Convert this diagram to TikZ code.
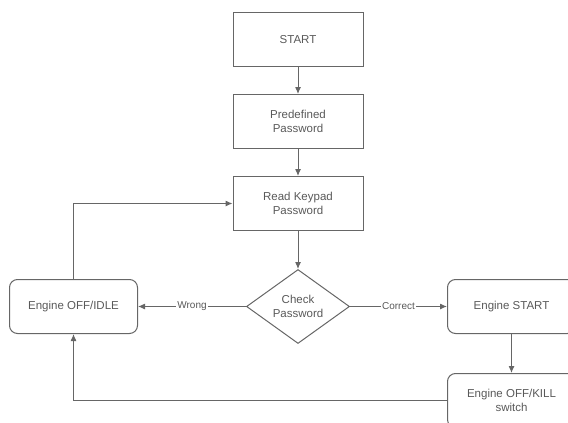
\documentclass[tikz,border=0pt]{standalone}
\usepackage{fontspec}
\setmainfont{Liberation Sans}
\usetikzlibrary{positioning,shapes.geometric,arrows.meta}

\begin{document}
\begin{tikzpicture}[x=1pt, y=1pt, -{Latex[length=7pt,width=6pt]}, line width=1pt, draw=black!60,
                    every node/.style={text=black!65, font=\fontsize{11.5}{13.5}\selectfont},
                    block/.style={rectangle, draw=black!60, minimum width=130pt, minimum height=54pt, align=center},
                    rblock/.style={block, rounded corners=8pt, minimum width=128pt},
                    decision/.style={diamond, draw=black!60, aspect=1.39, inner sep=0pt, minimum width=103pt, minimum height=74pt, align=center},
                    lbl/.style={fill=white, inner sep=1pt, font=\fontsize{10}{12}\selectfont}]
\useasboundingbox (0,0) rectangle (568,-423);

% main column
\node[block] (start) at (298,-39.5) {START};
\node[block] (predef) [below=27pt of start] {Predefined\\Password};
\node[block] (read) [below=27pt of predef] {Read Keypad\\Password};
\node[decision] (check) [below=38pt of read] {Check\\Password};

% outcomes
\node[rblock] (idle) [left=108pt of check] {Engine OFF/IDLE};
\node[rblock] (engstart) [right=97pt of check] {Engine START};
\node[rblock] (kill) [below=39pt of engstart] {Engine OFF/KILL\\switch};

% edges
\path (start) edge (predef);
\path (predef) edge (read);
\path (read) edge (check);
\path (check) edge node[lbl] {Wrong} (idle);
\path (check) edge node[lbl] {Correct} (engstart);
\path (engstart) edge (kill);
\draw (idle.north) |- (read.west);
\draw (kill.west) -| (idle.south);

\end{tikzpicture}
\end{document}
